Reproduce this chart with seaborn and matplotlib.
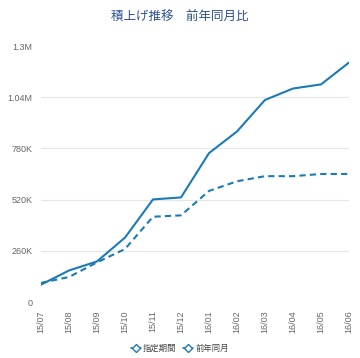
import pandas as pd
import seaborn as sns
import matplotlib.pyplot as plt
from matplotlib.lines import Line2D

# --- Datos ---
meses = ["15/07", "15/08", "15/09", "15/10", "15/11", "15/12",
         "16/01", "16/02", "16/03", "16/04", "16/05", "16/06"]
periodo = [88000, 160000, 206000, 327000, 521000, 531000,
           756000, 866000, 1026000, 1084000, 1105000, 1216000]
anterior = [97000, 127000, 201000, 269000, 433000, 440000,
            564000, 613000, 639000, 639000, 650000, 650000]
y_ticks = [0, 260000, 520000, 780000, 1040000, 1300000]
y_labels = ["0", "260K", "520K", "780K", "1.04M", "1.3M"]

df = pd.DataFrame({"mes": meses, "指定期間": periodo, "前年同月": anterior})
df["x"] = range(len(meses))

sns.set_theme(style="white")
plt.rcParams["font.family"] = ["Noto Sans CJK JP", "DejaVu Sans"]

color = "#1b7bb6"
fig = plt.figure(figsize=(3.6, 3.58), dpi=100)
ax = fig.add_axes([41 / 360, 1 - 302 / 358, 308 / 360, 256 / 358])

sns.lineplot(data=df, x="x", y="指定期間", ax=ax, color=color, linewidth=1.5)
sns.lineplot(data=df, x="x", y="前年同月", ax=ax, color=color, linewidth=1.5,
             linestyle=(0, (3, 2)))

ax.set_xlim(0, len(meses) - 1)
ax.set_ylim(0, 1300000)
ax.set_yticks(y_ticks)
ax.set_yticklabels(y_labels, family="Liberation Sans")
ax.set_xticks(df["x"])
ax.set_xticklabels(meses, rotation=90, family="Liberation Sans")
ax.tick_params(axis="both", labelsize=6.5, colors="#666666", length=0, pad=6)
ax.grid(axis="y", color="#e6e6e6", linewidth=0.8)
ax.yaxis.get_gridlines()[-1].set_visible(False)
ax.yaxis.get_gridlines()[0].set_visible(False)
ax.set_xlabel("")
ax.set_ylabel("")
for s in ax.spines.values():
    s.set_visible(False)

fig.text(0.5, 1 - 16 / 358, "積上げ推移　前年同月比", ha="center", va="center",
         fontsize=9, color="#2b4f8c")

handles = [Line2D([], [], color=color, marker="D", markersize=4,
                  markerfacecolor="white", linewidth=1.2) for _ in range(2)]
fig.legend(handles, ["指定期間", "前年同月"], loc="center",
           bbox_to_anchor=(0.5, 1 - 348 / 358), ncol=2, frameon=False,
           fontsize=6, handlelength=1.2, handletextpad=0.3, columnspacing=0.8,
           labelcolor="#444444")

plt.savefig("out.png", dpi=100)
plt.close()
